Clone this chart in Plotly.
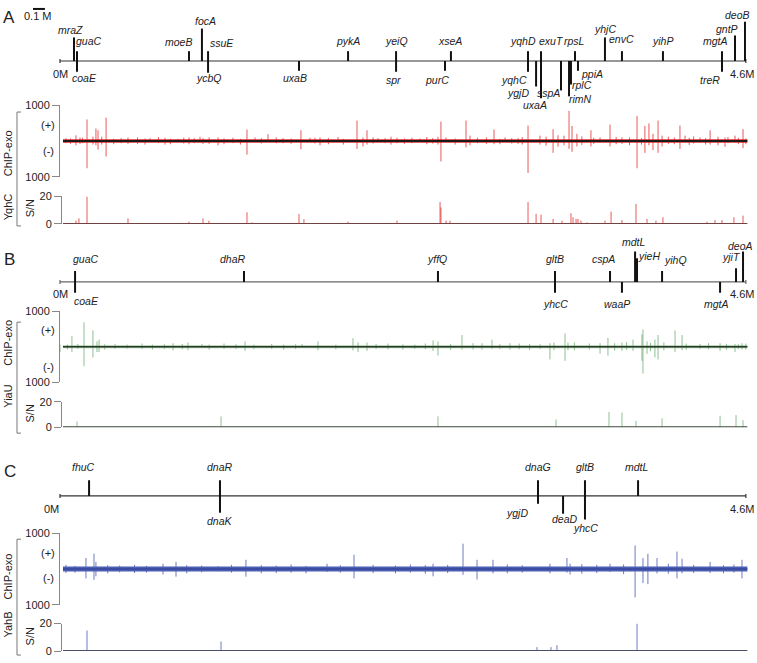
import plotly.graph_objects as go

W, H = 757, 663

# ===================== DATA =====================
# ---- Panel A : YqhC ----
genes_A = ["mraZ", "guaC", "coaE", "moeB", "focA", "ssuE", "ycbQ", "uxaB", "pykA", "yeiQ", "spr", "purC", "xseA",
           "yqhD", "yqhC", "ygjD", "exuT", "uxaA", "sspA", "rimN", "rplC", "rpsL", "ppiA", "yhjC", "envC", "yihP",
           "mgtA", "treR", "gntP", "deoB"]
genes_A_mb = [0.094, 0.114, 0.114, 0.865, 0.952, 0.993, 0.993, 1.603, 1.932, 2.254, 2.254, 2.582, 2.622,
              3.139, 3.139, 3.193, 3.226, 3.226, 3.360, 3.414, 3.427, 3.454, 3.474, 3.655, 3.769, 4.044,
              4.440, 4.440, 4.527, 4.594]

chipA_mb = [0.040, 0.107, 0.134, 0.181, 0.221, 0.241, 0.255, 0.309, 0.456, 0.604, 0.704, 0.791, 0.865, 0.939,
            0.959, 1.060, 1.254, 1.308, 1.395, 1.496, 1.616, 1.677, 1.744, 1.865, 1.992, 2.032, 2.059, 2.133,
            2.260, 2.414, 2.535, 2.555, 2.589, 2.723, 2.750, 2.911, 2.985, 3.072, 3.139, 3.219, 3.307, 3.340,
            3.414, 3.434, 3.467, 3.561, 3.622, 3.689, 3.769, 3.870, 3.923, 3.950, 3.977, 4.011, 4.038, 4.158,
            4.192, 4.292, 4.360, 4.413, 4.460, 4.527, 4.581]
chipA_plus = [80, 160, 100, 600, 120, 350, 300, 650, 100, 80, 90, 60, 100, 120, 80, 100, 320, 100, 190, 80,
              300, 90, 100, 110, 570, 100, 300, 80, 90, 70, 120, 540, 100, 570, 150, 320, 100, 80, 430, 150,
              330, 160, 840, 420, 200, 300, 100, 460, 100, 700, 420, 490, 200, 570, 150, 430, 150, 100, 300, 120,
              100, 150, 330]
chipA_minus = [60, 120, 80, 760, 100, 120, 240, 430, 80, 0, 100, 0, 90, 0, 80, 120, 380, 0, 0, 60,
               230, 0, 120, 0, 220, 150, 100, 0, 60, 0, 100, 570, 0, 180, 120, 90, 0, 80, 890, 100,
               330, 160, 220, 300, 150, 150, 0, 150, 80, 760, 330, 120, 250, 330, 150, 220, 0, 0, 100, 120,
               160, 0, 200]
minorA_mb = [0.07, 0.15, 0.28, 0.36, 0.41, 0.52, 0.57, 0.66, 0.74, 0.83, 0.90, 1.00, 1.10, 1.16, 1.21, 1.35,
             1.45, 1.55, 1.71, 1.80, 1.90, 2.10, 2.18, 2.22, 2.31, 2.36, 2.46, 2.50, 2.65, 2.80, 2.86, 2.95,
             3.03, 3.10, 3.26, 3.38, 3.50, 3.58, 3.73, 3.82, 3.90, 4.08, 4.12, 4.22, 4.25, 4.33, 4.48, 4.55, 4.60]
minorA_plus = [70, 90, 120, 60, 80, 100, 70, 110, 60, 90, 80, 100, 70, 90, 60, 80, 100, 70, 90, 80, 60, 100,
               80, 120, 70, 90, 110, 80, 70, 90, 100, 60, 80, 110, 120, 150, 130, 90, 110, 100, 80, 120, 100,
               90, 130, 80, 110, 90, 70]
minorA_minus = [80, 60, 100, 90, 60, 80, 100, 60, 90, 70, 60, 80, 90, 60, 100, 70, 60, 80, 70, 90, 100, 70,
                60, 100, 80, 60, 90, 70, 100, 60, 80, 90, 70, 100, 130, 120, 110, 80, 90, 120, 100, 80, 90,
                110, 70, 100, 60, 80, 90]
snA_mb = [0.107, 0.127, 0.181, 0.456, 0.865, 0.959, 0.999, 1.254, 1.288, 1.603, 1.636, 1.932, 2.260, 2.549,
          2.555, 2.589, 2.616, 3.139, 3.193, 3.226, 3.307, 3.367, 3.427, 3.441, 3.461, 3.474, 3.494, 3.535,
          3.655, 3.696, 3.769, 3.863, 3.937, 3.997, 4.044, 4.339, 4.393, 4.440, 4.520, 4.581]
snA_val = [2.4, 4.1, 20, 4.1, 1.7, 4.1, 2.4, 8.5, 1.2, 7.3, 3.5, 1.7, 2.4, 16, 12, 2.4, 2.4, 16, 7.3, 6.8,
           3.7, 2.4, 7.8, 4.9, 3.7, 3.7, 2.4, 1.2, 2.4, 9, 2.9, 14.6, 3.7, 2.4, 4.9, 1.7, 2.9, 2.9, 4.9, 6.1]

# ---- Panel B : YiaU ----
genes_B = ["guaC", "coaE", "dhaR", "yffQ", "gltB", "yhcC", "cspA", "waaP", "mdtL", "yieH", "yihQ", "mgtA",
           "yjiT", "deoA"]
genes_B_mb = [0.101, 0.101, 1.234, 2.535, 3.320, 3.320, 3.689, 3.769, 3.857, 3.870, 4.038, 4.427, 4.534, 4.581]

chipB_mb = [0.000, 0.080, 0.161, 0.221, 0.248, 0.262, 0.369, 0.758, 0.858, 0.952, 1.241, 1.623, 1.730, 1.965,
            1.999, 2.059, 2.502, 2.535, 2.696, 2.770, 2.897, 3.018, 3.286, 3.313, 3.387, 3.407, 3.622, 3.675,
            3.769, 3.843, 3.903, 3.910, 3.937, 3.990, 4.011, 4.125, 4.172, 4.292, 4.427, 4.527, 4.574]
chipB_plus = [60, 300, 690, 460, 150, 200, 80, 100, 120, 80, 150, 80, 150, 240, 120, 120, 180, 150, 330, 100,
              200, 100, 100, 120, 380, 120, 100, 250, 120, 200, 350, 490, 150, 200, 330, 460, 330, 80, 100, 80,
              100]
chipB_minus = [150, 150, 550, 300, 150, 150, 60, 100, 100, 0, 120, 0, 100, 100, 150, 120, 120, 250, 80, 80,
               60, 80, 360, 100, 400, 100, 200, 250, 120, 120, 400, 760, 200, 300, 360, 150, 100, 60, 120, 150,
               80]
minorB_mb = [0.05, 0.12, 0.30, 0.45, 0.55, 0.62, 0.70, 0.82, 1.00, 1.10, 1.18, 1.30, 1.42, 1.50, 1.58, 1.85,
             2.12, 2.20, 2.30, 2.38, 2.45, 2.62, 2.83, 2.95, 3.08, 3.15, 3.22, 3.45, 3.55, 3.72, 3.80, 3.96,
             4.05, 4.20, 4.35, 4.47, 4.55, 4.60]
minorB_plus = [60, 80, 70, 60, 90, 60, 70, 80, 60, 90, 70, 60, 80, 60, 70, 60, 80, 90, 70, 60, 90, 80, 100,
               70, 90, 80, 70, 120, 90, 100, 130, 110, 120, 90, 100, 80, 70, 90]
minorB_minus = [70, 60, 80, 50, 60, 80, 60, 70, 80, 60, 60, 70, 60, 80, 60, 70, 60, 70, 80, 60, 70, 90, 80,
                60, 70, 90, 60, 100, 80, 110, 90, 130, 100, 80, 70, 90, 60, 80]
snB_mb = [0.114, 1.080, 2.535, 3.327, 3.682, 3.769, 3.863, 4.038, 4.427, 4.534, 4.581]
snB_val = [4.6, 8.5, 8.5, 6, 12, 11.5, 5, 7, 9, 9.5, 5.5]

# ---- Panel C : YahB ----
genes_C = ["fhuC", "dnaR", "dnaK", "dnaG", "ygjD", "deaD", "gltB", "yhcC", "mdtL"]
genes_C_mb = [0.195, 1.073, 1.073, 3.206, 3.206, 3.374, 3.521, 3.521, 3.877]

chipC_mb = [0.174, 0.228, 0.241, 0.691, 0.778, 1.060, 1.247, 1.791, 1.972, 2.502, 2.703, 2.797, 2.904, 3.286,
            3.400, 3.421, 3.689, 3.857, 3.910, 3.943, 4.004, 4.138, 4.172, 4.360, 4.574]
chipC_plus = [310, 430, 200, 150, 200, 80, 260, 150, 400, 150, 710, 260, 260, 150, 310, 150, 150, 660, 310,
              430, 310, 490, 290, 200, 260]
chipC_minus = [260, 300, 200, 150, 210, 60, 210, 80, 260, 200, 160, 290, 120, 120, 100, 150, 80, 790, 390,
               420, 120, 260, 120, 110, 260]
minorC_mb = [0.04, 0.10, 0.32, 0.40, 0.50, 0.58, 0.85, 0.95, 1.15, 1.35, 1.45, 1.55, 1.65, 1.88, 2.10, 2.25,
             2.35, 2.45, 2.60, 3.00, 3.10, 3.50, 3.60, 3.78, 4.08, 4.25, 4.45, 4.52]
minorC_plus = [120, 90, 110, 100, 120, 90, 110, 100, 120, 110, 100, 130, 90, 110, 120, 100, 130, 110, 120,
               130, 110, 140, 120, 130, 150, 120, 110, 130]
minorC_minus = [110, 100, 120, 90, 110, 100, 120, 90, 100, 120, 110, 100, 120, 100, 110, 120, 100, 130, 110,
                120, 100, 130, 110, 140, 130, 110, 120, 100]
snC_mb = [0.181, 1.080, 3.199, 3.293, 3.333, 3.870]
snC_val = [15, 7, 2.9, 2.9, 4.3, 20]

GENOME_END_MB = 4.6

# ===================== STYLE =====================
FONT = "Liberation Sans, Arial, sans-serif"
GFS = 10.5           # gene label font size
PX_PER_MB = 149.1   # horizontal scale of every track
X0_PX = 60          # pixel column of 0 Mb

# gene marker style per panel: side, tick length (px), label x-shift (px), label height (px from line)
style_A = {
    "mraZ": ("up", 24, -4, 32), "guaC": ("up", 10, 12, 20), "coaE": ("down", 11, 7, -17),
    "moeB": ("up", 10, -10, 19), "focA": ("up", 33, 4, 41), "ssuE": ("up", 10, 14, 18),
    "ycbQ": ("down", 12, 1, -17), "uxaB": ("down", 10, -4, -17), "pykA": ("up", 10, 0, 20),
    "yeiQ": ("up", 10, 0, 20), "spr": ("down", 11, -3, -19), "purC": ("down", 10, -8, -19),
    "xseA": ("up", 10, -1, 20), "yqhD": ("up", 10, -5, 20), "yqhC": ("down", 11, -14, -19),
    "ygjD": ("down", 26, -18, -33), "exuT": ("up", 10, 10, 20), "uxaA": ("down", 38, -6, -45),
    "sspA": ("down", 30, -12, -33), "rimN": ("down", 36, 11, -39), "rplC": ("down", 24, 11, -24),
    "rpsL": ("up", 10, 0, 20), "ppiA": ("down", 10, 14, -13), "yhjC": ("up", 24, 0, 33),
    "envC": ("up", 10, 0, 22), "yihP": ("up", 10, 0, 20), "mgtA": ("up", 10, -7, 20),
    "treR": ("down", 11, -12, -19), "gntP": ("up", 26, -8, 33), "deoB": ("up", 40, -7, 47),
}
style_B = {
    "guaC": ("up", 11, 11, 23), "coaE": ("down", 11, 11, -19), "dhaR": ("up", 11, -11, 23),
    "yffQ": ("up", 11, -1, 23), "gltB": ("up", 11, 0, 23), "yhcC": ("down", 11, 0, -22),
    "cspA": ("up", 11, -7, 23), "waaP": ("down", 11, -5, -22), "mdtL": ("up", 31, -1, 41),
    "yieH": ("up", 24, 12, 26), "yihQ": ("up", 11, 13, 22), "mgtA": ("down", 11, -4, -22),
    "yjiT": ("up", 14, -5, 25), "deoA": ("up", 31, -3, 37),
}
style_C = {
    "fhuC": ("up", 16, -6, 30), "dnaR": ("up", 16, 0, 30), "dnaK": ("down", 17, 0, -25),
    "dnaG": ("up", 16, 0, 30), "ygjD": ("down", 8, -21, -17), "deaD": ("down", 18, 2, -23),
    "gltB": ("up", 16, 0, 30), "yhcC": ("down", 24, 1, -33), "mdtL": ("up", 16, -1, 30),
}

panels = [
    dict(letter="A", prot="YqhC", genes=genes_A, gmb=genes_A_mb, gstyle=style_A,
         chip=(chipA_mb, chipA_plus, chipA_minus), minor=(minorA_mb, minorA_plus, minorA_minus),
         sn=(snA_mb, snA_val),
         peak="rgba(225,35,35,0.75)", band="rgba(220,30,30,0.7)", band_w=4, base="#1a1a1a", base_w=1.8,
         snbase="rgb(115,65,65)", gline="#333",
         g_top=0, g_line=56, g_bot=108, c_top=101, c_bot=174, s_top=194, s_bot=222,
         letter_xy=(9, 12), end_dy=13, zero_dx=0, br_top=108, br_bot=224,
         chip_lbl_y=150, prot_lbl_y=205, sn_lbl_y=206, plus_y=121, minus_y=148),
    dict(letter="B", prot="YiaU", genes=genes_B, gmb=genes_B_mb, gstyle=style_B,
         chip=(chipB_mb, chipB_plus, chipB_minus), minor=(minorB_mb, minorB_plus, minorB_minus),
         sn=(snB_mb, snB_val),
         peak="rgba(70,150,75,0.6)", band="rgba(90,160,90,0.5)", band_w=3, base="rgb(40,55,40)", base_w=1.6,
         snbase="rgb(60,75,60)", gline="#666",
         g_top=226, g_line=281, g_bot=320, c_top=311, c_bot=383, s_top=403, s_bot=429,
         letter_xy=(9, 258), end_dy=12, zero_dx=0, br_top=322, br_bot=435,
         chip_lbl_y=343, prot_lbl_y=398, sn_lbl_y=415, plus_y=330, minus_y=368),
    dict(letter="C", prot="YahB", genes=genes_C, gmb=genes_C_mb, gstyle=style_C,
         chip=(chipC_mb, chipC_plus, chipC_minus), minor=(minorC_mb, minorC_plus, minorC_minus),
         sn=(snC_mb, snC_val),
         peak="rgba(60,80,175,0.75)", band="rgb(75,95,180)", band_w=5, base="rgb(55,70,155)", base_w=1.5,
         snbase="rgb(75,80,105)", gline="#333",
         g_top=452, g_line=499, g_bot=540, c_top=537, c_bot=610, s_top=629, s_bot=657,
         letter_xy=(10, 474), end_dy=13, zero_dx=-9, br_top=543, br_bot=661,
         chip_lbl_y=581, prot_lbl_y=630, sn_lbl_y=642, plus_y=557, minus_y=583),
]


def xdom(l_px, r_px):
    return [l_px / W, r_px / W]


def ydom(top_px, bot_px):
    return [1 - bot_px / H, 1 - top_px / H]


def xrng(l_px, r_px):
    return [(l_px - X0_PX) / PX_PER_MB, (r_px - X0_PX) / PX_PER_MB]


def nm(k):
    return "" if k == 1 else str(k)


def sticks(pos, up, down):
    xs, ys = [], []
    for p, u, d in zip(pos, up, down):
        if u:
            xs += [p, p, None]
            ys += [0, u, None]
        if d:
            xs += [p, p, None]
            ys += [0, -d, None]
    return xs, ys


fig = go.Figure()
layout = dict(width=W, height=H, margin=dict(l=0, r=0, t=0, b=0), paper_bgcolor="white",
              plot_bgcolor="rgba(0,0,0,0)", showlegend=False, font=dict(family=FONT, size=11, color="#222"))
annotations = []
shapes = []


def pann(px, py, text, size=11, angle=0, xanchor="center"):
    annotations.append(dict(x=px / W, y=1 - py / H, xref="paper", yref="paper", text=text, showarrow=False,
                            textangle=angle, xanchor=xanchor, yanchor="middle",
                            font=dict(size=size, family=FONT, color="#222")))


for i, P in enumerate(panels):
    kg, kc, ks = 3 * i + 1, 3 * i + 2, 3 * i + 3
    # ---------- genome map ----------
    layout["xaxis" + nm(kg)] = dict(domain=xdom(56, 750), range=xrng(56, 750), visible=False,
                                    anchor="y" + nm(kg), fixedrange=True)
    layout["yaxis" + nm(kg)] = dict(domain=ydom(P["g_top"], P["g_bot"]),
                                    range=[P["g_line"] - P["g_bot"], P["g_line"] - P["g_top"]],
                                    visible=False, anchor="x" + nm(kg), fixedrange=True)
    xa, ya = "x" + nm(kg), "y" + nm(kg)
    fig.add_trace(go.Scatter(x=[0, GENOME_END_MB], y=[0, 0], mode="lines", xaxis=xa, yaxis=ya,
                             line=dict(color=P["gline"], width=1.2), hoverinfo="skip"))
    fig.add_trace(go.Scatter(x=[0, 0, None, GENOME_END_MB, GENOME_END_MB],
                             y=[-2, 2, None, -2, 2], mode="lines", xaxis=xa, yaxis=ya,
                             line=dict(color=P["gline"], width=1.2), hoverinfo="skip"))
    gx, gy = [], []
    for g, mb in zip(P["genes"], P["gmb"]):
        side, L, dx, ly = P["gstyle"][g]
        gx += [mb, mb, None]
        gy += [0, L if side == "up" else -L, None]
        annotations.append(dict(x=mb, y=ly, xref=xa, yref=ya, xshift=dx, text="<i>%s</i>" % g,
                                showarrow=False, xanchor="center", yanchor="middle",
                                font=dict(size=GFS, family=FONT, color="#222")))
    fig.add_trace(go.Scatter(x=gx, y=gy, mode="lines", xaxis=xa, yaxis=ya,
                             line=dict(color="#111", width=2), hoverinfo="skip"))
    annotations.append(dict(x=0, y=-P["end_dy"], xref=xa, yref=ya, xshift=P["zero_dx"], text="0M",
                            showarrow=False, xanchor="center", yanchor="middle",
                            font=dict(size=11, family=FONT, color="#222")))
    annotations.append(dict(x=GENOME_END_MB, y=-P["end_dy"], xref=xa, yref=ya, xshift=-4, text="4.6M",
                            showarrow=False, xanchor="center", yanchor="middle",
                            font=dict(size=11, family=FONT, color="#222")))

    # ---------- ChIP-exo track ----------
    layout["xaxis" + nm(kc)] = dict(domain=xdom(60, 749), range=xrng(60, 749), visible=False,
                                    anchor="y" + nm(kc), fixedrange=True)
    layout["yaxis" + nm(kc)] = dict(domain=ydom(P["c_top"], P["c_bot"]), range=[-1000, 1000],
                                    anchor="x" + nm(kc), tickmode="array", tickvals=[-1000, 1000],
                                    ticktext=["1000", "1000"], ticks="outside", ticklen=7, tickwidth=1,
                                    tickcolor="#888", showline=True, linecolor="#888", linewidth=1,
                                    showgrid=False, zeroline=False, fixedrange=True,
                                    tickfont=dict(size=11, family=FONT, color="#222"))
    xa, ya = "x" + nm(kc), "y" + nm(kc)
    mx, my = sticks(*P["minor"])
    fig.add_trace(go.Scatter(x=mx, y=my, mode="lines", xaxis=xa, yaxis=ya,
                             line=dict(color=P["peak"], width=1), hoverinfo="skip"))
    cx, cy = sticks(*P["chip"])
    fig.add_trace(go.Scatter(x=cx, y=cy, mode="lines", xaxis=xa, yaxis=ya,
                             line=dict(color=P["peak"], width=1), hoverinfo="skip"))
    fig.add_trace(go.Scatter(x=[0.02, GENOME_END_MB + 0.01], y=[0, 0], mode="lines", xaxis=xa, yaxis=ya,
                             line=dict(color=P["band"], width=P["band_w"]), hoverinfo="skip"))
    fig.add_trace(go.Scatter(x=[0.02, GENOME_END_MB + 0.01], y=[0, 0], mode="lines", xaxis=xa, yaxis=ya,
                             line=dict(color=P["base"], width=P["base_w"]), hoverinfo="skip"))

    # ---------- S/N track ----------
    layout["xaxis" + nm(ks)] = dict(domain=xdom(62, 749), range=xrng(62, 749), visible=False,
                                    anchor="y" + nm(ks), fixedrange=True)
    layout["yaxis" + nm(ks)] = dict(domain=ydom(P["s_top"], P["s_bot"]), range=[0, 20],
                                    anchor="x" + nm(ks), tickmode="array", tickvals=[0, 20],
                                    ticktext=["0", "20"], ticks="outside", ticklen=7, tickwidth=1,
                                    tickcolor="#888", showline=True, linecolor="#888", linewidth=1,
                                    showgrid=False, zeroline=False, fixedrange=True,
                                    tickfont=dict(size=11, family=FONT, color="#222"))
    xa, ya = "x" + nm(ks), "y" + nm(ks)
    sx, sy = sticks(P["sn"][0], P["sn"][1], [0] * len(P["sn"][0]))
    fig.add_trace(go.Scatter(x=sx, y=sy, mode="lines", xaxis=xa, yaxis=ya,
                             line=dict(color=P["peak"], width=1), hoverinfo="skip"))
    fig.add_trace(go.Scatter(x=[0.02, GENOME_END_MB + 0.01], y=[0, 0], mode="lines", xaxis=xa, yaxis=ya,
                             line=dict(color=P["snbase"], width=2.2), hoverinfo="skip", cliponaxis=False))

    # ---------- side labels ----------
    pann(P["letter_xy"][0], P["letter_xy"][1], P["letter"], size=17)
    pann(48, P["plus_y"], "(+)")
    pann(48, P["minus_y"], "(-)")
    pann(8, P["chip_lbl_y"], "ChIP-exo", angle=-90)
    pann(8, P["prot_lbl_y"], P["prot"], angle=-90)
    pann(30, P["sn_lbl_y"], "S/N", angle=-90)
    t, b = P["br_top"], P["br_bot"]
    shapes.append(dict(type="path", xref="paper", yref="paper",
                       path="M %f %f L %f %f L %f %f L %f %f" % (21 / W, 1 - t / H, 17 / W, 1 - t / H,
                                                                  17 / W, 1 - b / H, 21 / W, 1 - b / H),
                       line=dict(color="#777", width=1)))

# scale bar (0.1 Mb)
bar_len_px = 0.1 * PX_PER_MB * 0.8
shapes.append(dict(type="line", xref="paper", yref="paper", x0=33 / W, x1=(33 + bar_len_px) / W,
                   y0=1 - 3 / H, y1=1 - 3 / H, line=dict(color="#111", width=2)))
pann(38, 10, "0.1 M", size=11)

layout["annotations"] = annotations
layout["shapes"] = shapes
fig.update_layout(**layout)
fig.write_html("out.html", config={"displayModeBar": False, "staticPlot": True},
               post_script="document.body.style.margin='0';document.body.style.overflow='hidden';")
